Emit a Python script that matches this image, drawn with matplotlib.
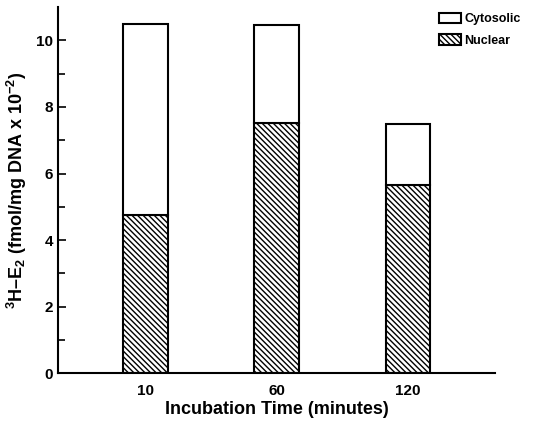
import matplotlib
matplotlib.use("Agg")
import matplotlib.pyplot as plt
import numpy as np
from matplotlib.patches import Patch

plt.rcParams['font.family'] = ['Liberation Sans', 'DejaVu Sans']
plt.rcParams['font.weight'] = 'bold'
plt.rcParams['axes.labelweight'] = 'bold'
plt.rcParams['mathtext.default'] = 'bf'
plt.rcParams['mathtext.fontset'] = 'custom'
plt.rcParams['mathtext.bf'] = 'Liberation Sans:bold'
plt.rcParams['mathtext.rm'] = 'Liberation Sans:bold'
plt.rcParams['hatch.linewidth'] = 1.0

# data
times = ['10', '60', '120']
nuclear = [4.75, 7.52, 5.65]
total = [10.5, 10.45, 7.5]
cytosolic = [t - n for t, n in zip(total, nuclear)]

fig = plt.figure(figsize=(5.48, 4.23), dpi=100)
ax = fig.add_axes([0.106, 0.118, 0.797, 0.865])

x = np.arange(len(times))
w = 0.34
hatch = '\\\\\\\\\\\\'
ax.bar(x, nuclear, w, color='white', edgecolor='black', hatch=hatch, linewidth=1.5)
ax.bar(x, cytosolic, w, bottom=nuclear, color='white', edgecolor='black', linewidth=1.5)

ax.set_xlim(-0.665, 2.66)
ax.set_ylim(0, 11)
ax.set_xticks(x)
ax.set_xticklabels(times)
ax.set_yticks(np.arange(0, 11, 2))
ax.set_yticks(np.arange(0, 11, 1), minor=True)
ax.tick_params(axis='y', which='both', direction='in', width=1.2, labelsize=11)
ax.tick_params(axis='y', which='major', length=6)
ax.tick_params(axis='y', which='minor', length=5)
ax.tick_params(axis='x', length=0, labelsize=11, pad=8)
for s in ['top', 'right']:
    ax.spines[s].set_visible(False)
for s in ['left', 'bottom']:
    ax.spines[s].set_linewidth(1.5)

ax.set_xlabel('Incubation Time (minutes)', fontsize=13, labelpad=2)
ax.set_ylabel('$^3$H\u2013E$_2$ (fmol/mg DNA x 10$^{-2}$)', fontsize=13, labelpad=5)

handles = [Patch(facecolor='white', edgecolor='black', linewidth=1.5, label='Cytosolic'),
           Patch(facecolor='white', edgecolor='black', linewidth=1.5, hatch=hatch, label='Nuclear')]
ax.legend(handles=handles, loc='upper right', bbox_to_anchor=(1.085, 1.015), frameon=False,
          fontsize=9, handlelength=1.7, handleheight=0.9, handletextpad=0.3, labelspacing=0.7)

fig.savefig('out.png', dpi=100)
